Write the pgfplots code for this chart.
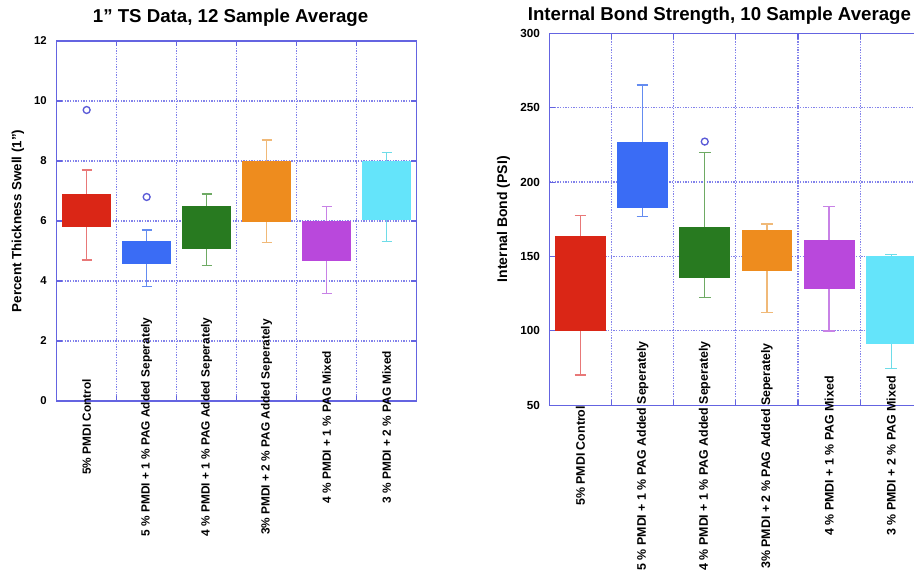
\documentclass[border=0pt]{standalone}
\usepackage{fontspec}
\setmainfont{Liberation Sans}
\usepackage{pgfplots}
\pgfplotsset{compat=1.18}
\usepgfplotslibrary{statistics}
\definecolor{frame}{RGB}{100,100,225}
\definecolor{gridc}{RGB}{130,130,235}
\definecolor{outl}{RGB}{90,90,215}
\definecolor{redB}{RGB}{218,38,22}
\definecolor{redW}{RGB}{232,120,120}
\definecolor{bluB}{RGB}{58,108,245}
\definecolor{bluW}{RGB}{100,140,240}
\definecolor{grnB}{RGB}{40,122,32}
\definecolor{grnW}{RGB}{110,170,100}
\definecolor{orgB}{RGB}{238,140,30}
\definecolor{orgW}{RGB}{240,185,120}
\definecolor{purB}{RGB}{185,72,220}
\definecolor{purW}{RGB}{200,130,230}
\definecolor{cyaB}{RGB}{100,228,250}
\definecolor{cyaW}{RGB}{110,220,232}
\pgfplotsset{
  mybox/.style 2 args={draw=#1, fill=#1, solid, line width=0.6pt,
    boxplot/draw direction=y,
    boxplot/every whisker/.style={draw=#2, line width=1pt, fill=none},
    boxplot/every median/.style={draw=none},
    mark=o, mark size=2.6pt, mark options={draw=outl, fill=none, line width=1pt, solid}},
  common/.style={
    scale only axis, anchor=south west,
    xmin=0, xmax=6,
    xtick={0.5,1.5,2.5,3.5,4.5,5.5},
    minor xtick={1,2,3,4,5},
    xticklabels={5\% PMDI Control, 5 \% PMDI + 1 \% PAG Added Seperately, 4 \% PMDI + 1 \% PAG Added Seperately, 3\% PMDI + 2 \% PAG Added Seperately, 4 \% PMDI + 1 \% PAG Mixed, 3 \% PMDI + 2 \% PAG Mixed},
    xmajorgrids=false, xminorgrids=true, ymajorgrids=true,
    grid style={gridc, line width=0.9pt, dash pattern=on 1pt off 1pt},
    minor grid style={gridc, line width=0.9pt, dash pattern=on 1pt off 1pt},
    axis line style={frame, line width=1.1pt},
    every major x tick/.style={draw=none},
    tick style={frame, line width=0.8pt},
    major tick length=4pt, minor tick length=4pt,
    /pgf/number format/assume math mode=true,
    title style={font=\bfseries\fontsize{14}{16}\selectfont, anchor=center},
    ylabel style={font=\bfseries\fontsize{10}{12}\selectfont, anchor=center},
    clip=false,
  }
}
\begin{document}
\begin{tikzpicture}
\path[use as bounding box] (0,0) rectangle (685.5pt,429.75pt);
\clip (0,0) rectangle (685.5pt,429.75pt);
\begin{axis}[common,
  at={(42.5pt,129pt)}, width=270pt, height=270pt,
  ymin=0, ymax=12, ytick={0,2,4,6,8,10,12},
  title={1” TS Data, 12 Sample Average},
  title style={at={(axis description cs:0.483,1)}, yshift=11.25pt},
  ylabel={Percent Thickness Swell (1”)},
  ylabel style={at={(axis description cs:-0.1075,0.5)}},
  yticklabel style={font=\bfseries\fontsize{8.5}{10}\selectfont, xshift=-4pt},
  xticklabel style={font=\bfseries\fontsize{8.9}{10}\selectfont, yshift=-19.5pt, rotate=90, anchor=center},
]
\addplot[mybox={redB}{redW}, boxplot prepared={draw position=0.5, lower whisker=4.7, lower quartile=5.83, median=5.83, upper quartile=6.87, upper whisker=7.7, box extend=0.8, whisker extend=0.17}] table[row sep=\\, y index=0] {9.7\\};
\addplot[mybox={bluB}{bluW}, boxplot prepared={draw position=1.5, lower whisker=3.82, lower quartile=4.59, median=4.59, upper quartile=5.33, upper whisker=5.7, box extend=0.8, whisker extend=0.17}] table[row sep=\\, y index=0] {6.8\\};
\addplot[mybox={grnB}{grnW}, boxplot prepared={draw position=2.5, lower whisker=4.51, lower quartile=5.08, median=5.08, upper quartile=6.47, upper whisker=6.9, box extend=0.8, whisker extend=0.17}] coordinates {};
\addplot[mybox={orgB}{orgW}, boxplot prepared={draw position=3.5, lower whisker=5.29, lower quartile=6.0, median=6.0, upper quartile=8.0, upper whisker=8.7, box extend=0.8, whisker extend=0.17}] coordinates {};
\addplot[mybox={purB}{purW}, boxplot prepared={draw position=4.5, lower whisker=3.59, lower quartile=4.7, median=4.7, upper quartile=6.0, upper whisker=6.48, box extend=0.8, whisker extend=0.17}] coordinates {};
\addplot[mybox={cyaB}{cyaW}, boxplot prepared={draw position=5.5, lower whisker=5.31, lower quartile=6.05, median=6.05, upper quartile=8.0, upper whisker=8.29, box extend=0.8, whisker extend=0.17}] coordinates {};
\end{axis}
\begin{axis}[common,
  at={(412pt,125.8pt)}, width=279.75pt, height=279pt,
  ymin=50, ymax=300, ytick={50,100,150,200,250,300},
  title={Internal Bond Strength, 10 Sample Average},
  title style={at={(axis description cs:0.456,1)}, yshift=7.5pt},
  ylabel={Internal Bond (PSI)},
  ylabel style={at={(axis description cs:-0.123,0.5)}, font=\bfseries\fontsize{10.5}{12}\selectfont},
  yticklabel style={font=\bfseries\fontsize{8.8}{10}\selectfont, xshift=-3.5pt},
  xticklabel style={font=\bfseries\fontsize{9.3}{10}\selectfont, yshift=-38pt, rotate=90, anchor=center},
]
\addplot[mybox={redB}{redW}, boxplot prepared={draw position=0.5, lower whisker=70.4, lower quartile=100, median=100, upper quartile=163.5, upper whisker=177.5, box extend=0.8, whisker extend=0.19}] coordinates {};
\addplot[mybox={bluB}{bluW}, boxplot prepared={draw position=1.5, lower whisker=176.8, lower quartile=183, median=183, upper quartile=226.5, upper whisker=265.3, box extend=0.8, whisker extend=0.19}] coordinates {};
\addplot[mybox={grnB}{grnW}, boxplot prepared={draw position=2.5, lower whisker=122.6, lower quartile=136, median=136, upper quartile=169.6, upper whisker=219.8, box extend=0.8, whisker extend=0.19}] table[row sep=\\, y index=0] {227.2\\};
\addplot[mybox={orgB}{orgW}, boxplot prepared={draw position=3.5, lower whisker=112.5, lower quartile=140.5, median=140.5, upper quartile=167.8, upper whisker=171.8, box extend=0.8, whisker extend=0.19}] coordinates {};
\addplot[mybox={purB}{purW}, boxplot prepared={draw position=4.5, lower whisker=100, lower quartile=128.6, median=128.6, upper quartile=161.1, upper whisker=183.5, box extend=0.8, whisker extend=0.19}] coordinates {};
\addplot[mybox={cyaB}{cyaW}, boxplot prepared={draw position=5.5, lower whisker=74.9, lower quartile=91.7, median=91.7, upper quartile=149.9, upper whisker=151.5, box extend=0.8, whisker extend=0.19}] coordinates {};
\end{axis}
\end{tikzpicture}
\end{document}
